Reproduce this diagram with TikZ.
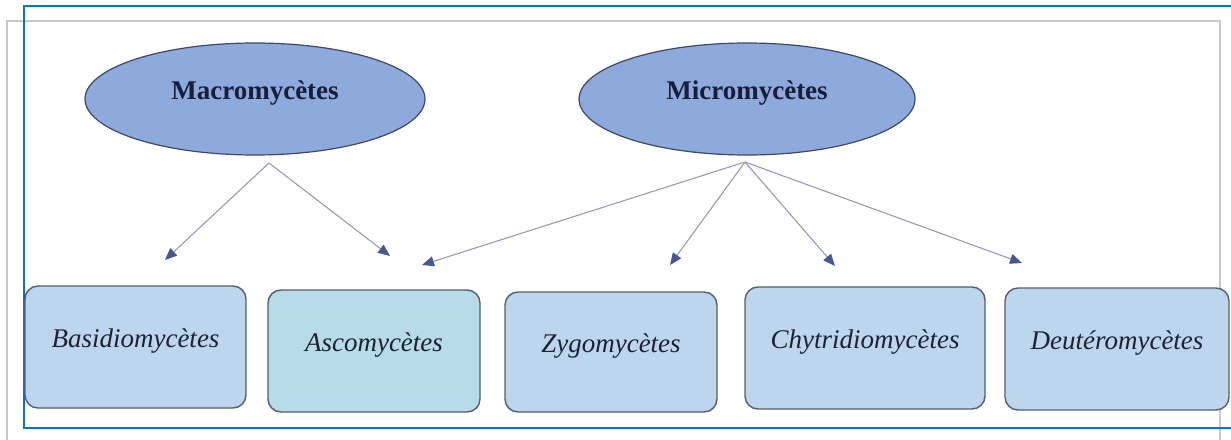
\documentclass[tikz,border=0pt]{standalone}
\usepackage{fontspec}
\setmainfont{Liberation Serif}
\usetikzlibrary{shapes.geometric,arrows.meta}
\definecolor{grpfill}{RGB}{142,169,219}
\definecolor{grpline}{RGB}{62,72,100}
\definecolor{grptext}{RGB}{22,30,58}
\definecolor{taxfill}{RGB}{189,214,238}
\definecolor{ascofill}{RGB}{183,219,232}
\definecolor{taxline}{RGB}{84,94,108}
\definecolor{taxtext}{RGB}{28,34,52}
\definecolor{linkcol}{RGB}{146,156,184}
\definecolor{tipcol}{RGB}{72,86,146}
\definecolor{frameblue}{RGB}{10,112,210}
\definecolor{framegray}{RGB}{200,200,200}

\begin{document}
\begin{tikzpicture}[x=1pt,y=-1pt,
  group/.style={ellipse, draw=grpline, line width=1.2pt, fill=grpfill, inner sep=0pt,
    text=grptext, font=\fontsize{27}{30}\selectfont\bfseries, text height=20pt, text depth=20pt},
  taxon/.style={rectangle, rounded corners=13pt, draw=taxline, line width=1.4pt, fill=taxfill,
    inner sep=0pt, text=taxtext, font=\fontsize{27}{30}\selectfont\itshape,
    text height=20pt, text depth=20pt, minimum height=122pt},
  link/.style={draw=linkcol, line width=1.1pt, -{Triangle[length=12pt,width=10pt,color=tipcol]}}]
  \useasboundingbox (0,0) rectangle (1231,439);
  % frames
  \draw[framegray, line width=1.2pt] (7,445) -- (7,21) -- (1220,21) -- (1220,445);
  \draw[frameblue, line width=1.4pt] (1235,6) -- (24,6) -- (24,428) -- (1235,428);
  % the two groups
  \node[group, minimum width=340pt, minimum height=112pt] (macro) at (255,99) {Macromycètes};
  \node[group, minimum width=336pt, minimum height=112pt] (micro) at (747,99) {Micromycètes};
  % the classes
  \node[taxon, minimum width=221pt] (basidio) at (135.5,347) {Basidiomycètes};
  \node[taxon, minimum width=212pt, fill=ascofill] (asco) at (374,351) {Ascomycètes};
  \node[taxon, minimum width=212pt, minimum height=120pt] (zygo) at (611,352) {Zygomycètes};
  \node[taxon, minimum width=240pt] (chytri) at (865,348) {Chytridiomycètes};
  \node[taxon, minimum width=224pt] (deutero) at (1117,349) {Deutéromycètes};
  % arrow origins (below the ellipses) and tips (above the boxes)
  \coordinate (macroO) at (269,163);
  \coordinate (microO) at (745,162);
  \coordinate (basidioT) at (165,260);
  \coordinate (ascoTa) at (390,256);
  \coordinate (ascoTb) at (422,265);
  \coordinate (zygoT) at (670,265);
  \coordinate (chytriT) at (835,266);
  \coordinate (deuteroT) at (1022,263);
  % links
  \draw[link] (macroO) -- (basidioT);
  \draw[link] (macroO) -- (ascoTa);
  \foreach \t in {ascoTb,zygoT,chytriT,deuteroT}{
    \draw[link] (microO) -- (\t);
  }
\end{tikzpicture}
\end{document}
